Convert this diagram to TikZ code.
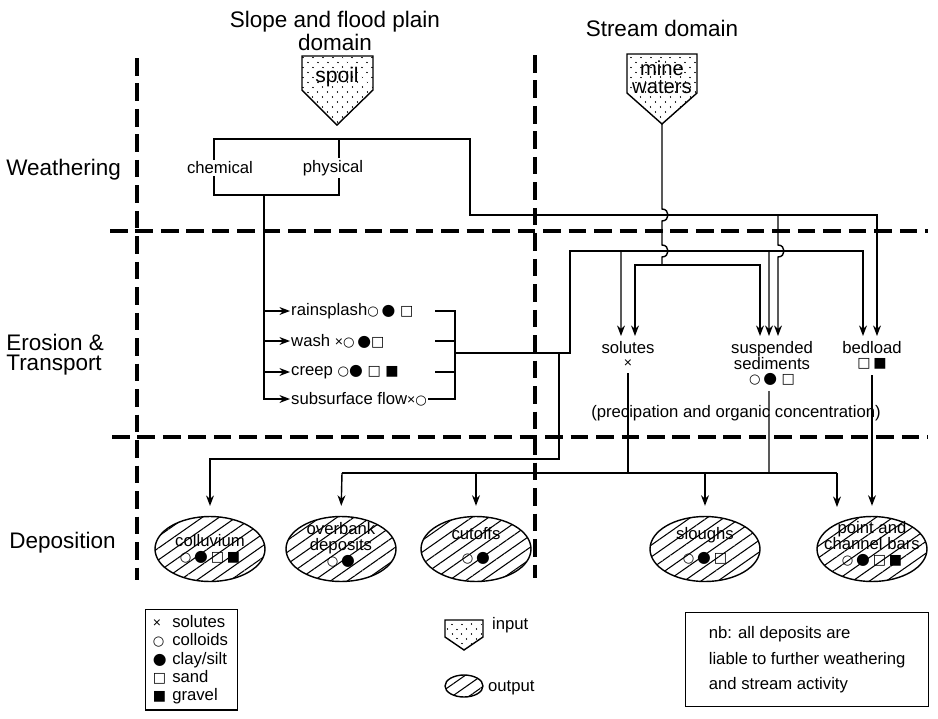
\documentclass[tikz,border=0pt]{standalone}
\usepackage{fontspec}
\setmainfont{Liberation Sans}
\newfontfamily\symfont{DejaVu Sans}
\usetikzlibrary{arrows.meta,positioning,calc,shapes.geometric,patterns.meta}
\newcommand{\symsol}{{\fontsize{8}{8}\selectfont ×}}
\newcommand{\symcol}{{\symfont\fontsize{7.5}{7}\selectfont ○}}
\newcommand{\symclay}{{\symfont\fontsize{9}{7}\selectfont ●}}
\newcommand{\symsand}{{\symfont\fontsize{8}{7}\selectfont □}}
\newcommand{\symgrav}{{\symfont\fontsize{8}{7}\selectfont ■}}
\newcommand{\keyitem}[2]{\makebox[11pt][l]{#1}#2}
\tikzset{zone/.style={line width=2.2pt,dash pattern=on 10pt off 4.5pt},
	link/.style={line width=0.8pt},
	flow/.style={link,-{Stealth[length=6pt,width=4.5pt]}},
	headline/.style={font=\fontsize{12.8}{11.5}\selectfont,align=left,inner sep=0pt},
	lbl/.style={font=\fontsize{9.5}{9}\selectfont,align=center,inner sep=1pt},
	input/.style={draw,line width=0.8pt,pattern={Dots[distance=4pt,angle=45,radius=0.45pt]}},
	deposit/.style={ellipse,draw,line width=0.8pt,minimum width=2.2cm,minimum height=1.3cm,inner sep=0pt,
		pattern={Lines[angle=35,distance=5.5pt,line width=0.6pt]}}}

\begin{document}
\begin{tikzpicture}[x=0.02cm,y=-0.02cm]
	\useasboundingbox (0,0) rectangle (938,718);
	% zones
	\draw[zone] (137,58) -- (137,580);
	\draw[zone] (535,55) -- (535,578);
	\draw[zone] (110,231) -- (928,231);
	\draw[zone] (112,437) -- (928,437);
	\node[headline,align=center] (slope) at (335,31) {Slope and flood plain\\domain};
	\node[headline] (stream) at (662,28) {Stream domain};
	\node[headline,anchor=west] (weath) at (6,170) {Weathering};
	\node[headline,anchor=west] (eros) at (6,355) {Erosion \&\\Transport};
	\node[headline,anchor=west] (depo) at (9,543) {Deposition};
	% inputs
	\draw[input] (302,56) -- (373,56) -- (373,90) -- (337,125) -- (302,90) -- cycle;
	\coordinate (spoiltip) at (337,125);
	\node[lbl,font=\fontsize{12}{12}\selectfont] (spoil) at (337,77) {spoil};
	\draw[input] (627,54) -- (697,54) -- (697,93) -- (662,124) -- (627,93) -- cycle;
	\coordinate (minetip) at (662,124);
	\node[lbl,font=\fontsize{11.5}{10.5}\selectfont] (mine) at (662,77) {mine\\waters};
	% weathering
	\draw[link] (214,139) rectangle (339,195);
	\coordinate (chembot) at (264,195);
	\coordinate (wtop) at (339,139);
	\node[lbl,fill=white] (chem) at (220,168) {chemical};
	\node[lbl,fill=white] (phys) at (333,168) {physical};
	% erosion on slopes
	\node[lbl,anchor=west,inner sep=0.5pt] (rain) at (290,311) {rainsplash\symcol\,\symclay\ \symsand};
	\node[lbl,anchor=west,inner sep=0.5pt] (wash) at (290,341) {wash \symsol\symcol\,\symclay\symsand};
	\node[lbl,anchor=west,inner sep=0.5pt] (creep) at (290,372) {creep \symcol\symclay\ \symsand\ \symgrav};
	\node[lbl,anchor=west,inner sep=0.5pt] (subs) at (290,399) {subsurface flow\symsol\symcol};
	\draw[flow] (chembot) |- (subs.west);
	\draw[flow] (264,311) -- (rain.west);
	\draw[flow] (264,341) -- (wash.west);
	\draw[flow] (264,372) -- (creep.west);
	\draw[link] (435,311) -- (455,311) -- (455,399) -- (subs.east);
	\draw[link] (435,341) -- (455,341);
	\draw[link] (435,372) -- (455,372);
	\coordinate (ecol) at (455,353);
	\coordinate (esplit) at (559,353);
	% stream loads
	\node[lbl,anchor=north,inner ysep=3pt] (solutes) at (628,336) {solutes\\[-1pt]\symsol};
	\node[lbl,anchor=north,inner ysep=3pt] (susp) at (772,336) {suspended\\sediments\\[-1pt]\symcol\,\symclay\ \symsand};
	\node[lbl,anchor=north,inner ysep=3pt] (bedload) at (872,336) {bedload\\[-1pt]\symsand\,\symgrav};
	\node[lbl] (precip) at (736,413) {(precipation and organic concentration)};
	\draw[link] (ecol) -- (esplit);
	\draw[flow] (esplit) -- (570,353) -- (570,251) -| ([xshift=-0.18cm]bedload.north);
	\draw[flow] (621,251) -- ([xshift=-0.14cm]solutes.north);
	\draw[flow] (769,251) -- ([xshift=-0.06cm]susp.north);
	\draw[flow] (wtop) -- (470,139) -- (470,215) -| ([xshift=0.1cm]bedload.north);
	\draw[flow] (778,215) -- (778,245) .. controls (786,245) and (786,257) .. (778,257) -- ([xshift=0.12cm]susp.north);
	\draw[link] (minetip) -- (662,209) .. controls (670,209) and (670,221) .. (662,221) -- (662,245)
		.. controls (670,245) and (670,257) .. (662,257) -- (662,265);
	\draw[flow] (662,265) -| ([xshift=0.14cm]solutes.north);
	\draw[flow] (662,265) -| ([xshift=-0.24cm]susp.north);
	% deposition
	\node[deposit] (colluv) at (210,549) {};
	\node[deposit] (overbank) at (341,549) {};
	\node[deposit] (cutoffs) at (476,549) {};
	\node[deposit] (sloughs) at (705,549) {};
	\node[deposit] (bars) at (872,549) {};
	\node[lbl] (colluvtxt) at (colluv) {colluvium\\\symcol\,\symclay\,\symsand\,\symgrav};
	\node[lbl] (overbanktxt) at ([yshift=0.08cm]overbank) {overbank\\deposits\\\symcol\,\symclay};
	\node[lbl] (cutoffstxt) at ([yshift=0.06cm]cutoffs) {cutoffs\\[4pt]\symcol\,\symclay};
	\node[lbl] (sloughstxt) at ([yshift=0.06cm]sloughs) {sloughs\\[4pt]\symcol\,\symclay\,\symsand};
	\node[lbl] (barstxt) at ([yshift=0.1cm]bars) {point and\\channel bars\\\symcol\,\symclay\,\symsand\,\symgrav};
	\draw[flow,shorten >=0.2cm] (esplit) -- (559,459) -| (colluv.north);
	\draw[link] (342,473) -- (837,473);
	\draw[link] (solutes.south) -- (628,473);
	\draw[link] ([xshift=-0.06cm]susp.south) -- (769,473);
	\draw[flow,shorten >=0.2cm] (342,473) -- (overbank.north);
	\draw[flow,shorten >=0.2cm] (476,473) -- (cutoffs.north);
	\draw[flow,shorten >=0.2cm] (705,473) -- (sloughs.north);
	\draw[flow] (837,473) -- (837,507);
	\draw[flow,shorten >=0.2cm] (bedload.south) -- (bars.north);
	% keys
	\node[draw,link,anchor=north west,minimum width=1.84cm,minimum height=1.98cm,text width=1.55cm,
		inner xsep=0.12cm,align=left,font=\fontsize{9.5}{10.4}\selectfont] (key) at (145,609)
		{\keyitem{\symsol}{solutes}\\\keyitem{\symcol}{colloids}\\\keyitem{\symclay}{clay/silt}\\
		\keyitem{\symsand}{sand}\\\keyitem{\symgrav}{gravel}};
	\draw[input] (445,620) -- (483,620) -- (483,637) -- (464,650) -- (445,637) -- cycle;
	\node[lbl,anchor=west] (inputlbl) at (490,625) {input};
	\node[deposit,minimum width=0.76cm,minimum height=0.44cm] (outsym) at (464,686) {};
	\node[lbl,anchor=west] (outputlbl) at (486,688) {output};
	\node[draw,link,anchor=north west,minimum width=4.86cm,minimum height=1.88cm,
		align=left,font=\fontsize{9.5}{14.7}\selectfont] (note) at (685,612)
		{nb: all deposits are\\liable to further weathering\\and stream activity};
\end{tikzpicture}
\end{document}
